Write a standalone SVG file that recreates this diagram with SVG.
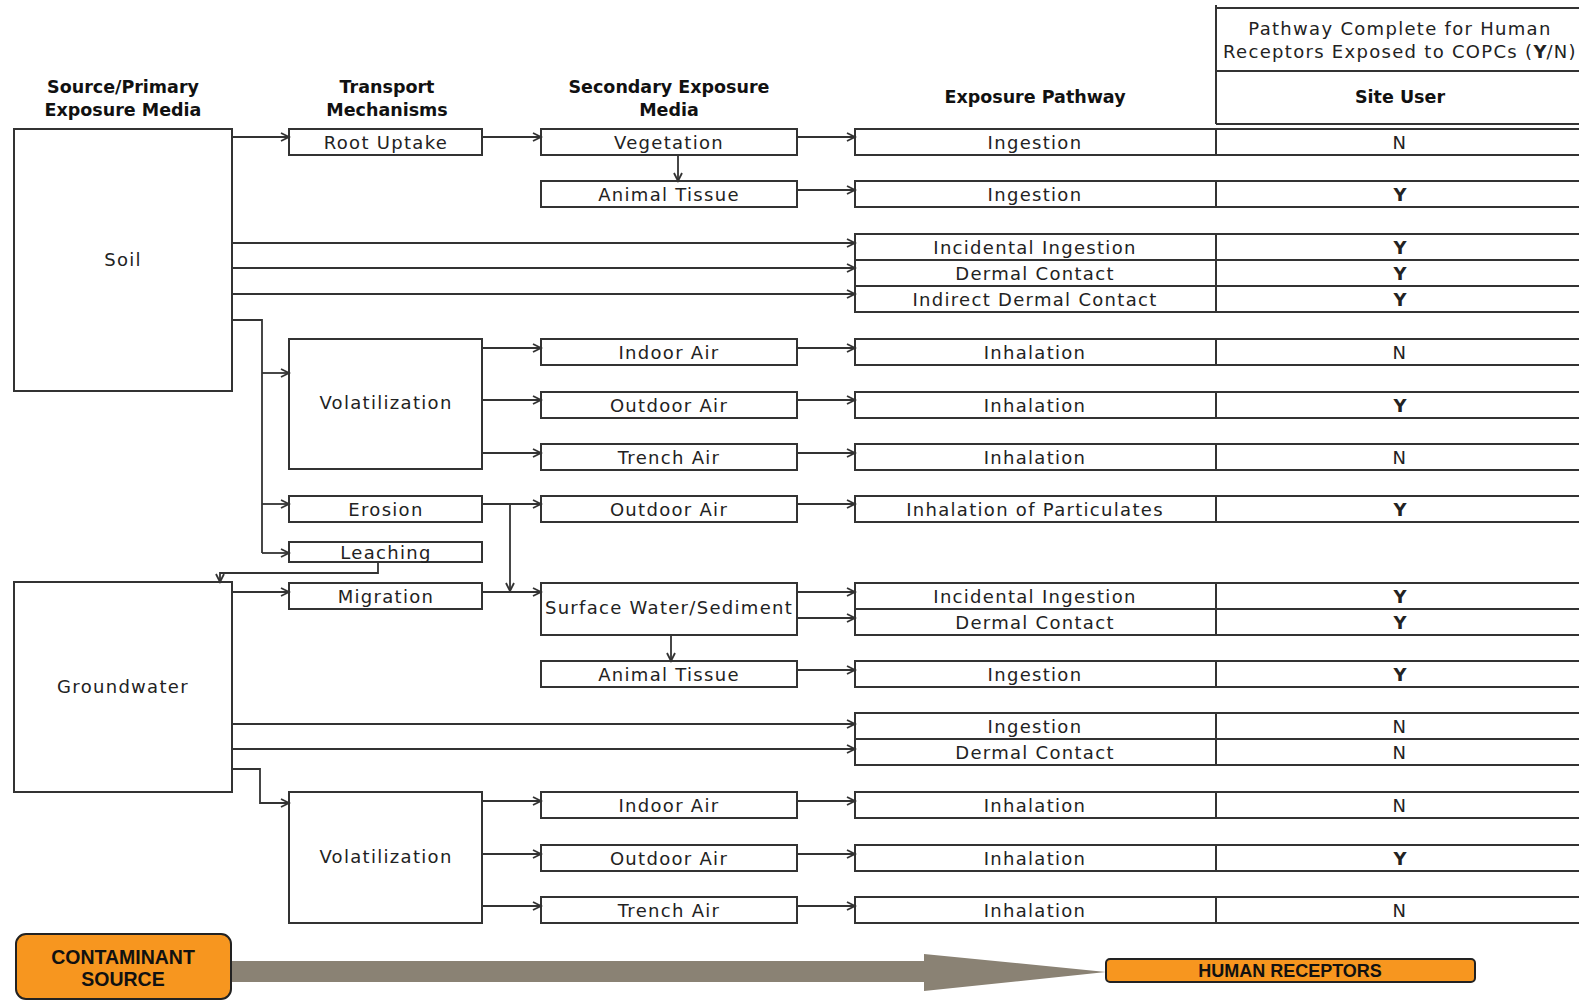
<svg xmlns="http://www.w3.org/2000/svg" width="1579" height="1001" viewBox="0 0 1579 1001">
<defs>
<marker id="ah" markerUnits="userSpaceOnUse" markerWidth="12" markerHeight="12" refX="10" refY="6" orient="auto">
<path d="M2,2 L10,6 L2,10" fill="none" stroke="#333" stroke-width="1.8"/>
</marker>
<style>
.box{fill:#fff;stroke:#333;stroke-width:2}
.t{font-family:"DejaVu Sans",sans-serif;font-size:18px;letter-spacing:1.3px;fill:#222;text-anchor:middle;dominant-baseline:central}
.h{font-family:"DejaVu Sans",sans-serif;font-size:17.5px;font-weight:bold;fill:#111;text-anchor:middle;dominant-baseline:central}
.b{font-weight:bold;letter-spacing:0}
.c{stroke:#333;stroke-width:1.8;fill:none;marker-end:url(#ah)}
.l{stroke:#333;stroke-width:1.8;fill:none}
.o{fill:#F7961F;stroke:#222;stroke-width:2}
.ob{font-family:"Liberation Sans",Arial,sans-serif;font-size:18px;font-weight:bold;fill:#111;text-anchor:middle;dominant-baseline:central}
</style>
</defs>
<rect width="1579" height="1001" fill="#fff"/>

<g id="headers">
<text class="h" x="123" y="87">Source/Primary</text>
<text class="h" x="123" y="110">Exposure Media</text>
<text class="h" x="387" y="87">Transport</text>
<text class="h" x="387" y="110">Mechanisms</text>
<text class="h" x="669" y="87">Secondary Exposure</text>
<text class="h" x="669" y="110">Media</text>
<text class="h" x="1035" y="97">Exposure Pathway</text>
</g>

<g id="receptor-header">
<path class="l" d="M1216,5 V124 M1216,8 H1579 M1216,71 H1579 M1216,124 H1579" style="stroke-width:2"/>
<text class="t" x="1400" y="28">Pathway Complete for Human</text>
<text class="t" x="1400" y="51">Receptors Exposed to COPCs (<tspan class="b">Y</tspan>/N)</text>
<text class="h" x="1400" y="97">Site User</text>
</g>

<g id="soil"><rect class="box" x="14" y="129" width="218" height="262"/><text class="t" x="123" y="259">Soil</text></g>
<g id="groundwater"><rect class="box" x="14" y="582" width="218" height="210"/><text class="t" x="123" y="686">Groundwater</text></g>

<g id="root-uptake"><rect class="box" x="289" y="129" width="193" height="26"/><text class="t" x="386" y="142">Root Uptake</text></g>
<g id="volatilization-1"><rect class="box" x="289" y="339" width="193" height="130"/><text class="t" x="386" y="402">Volatilization</text></g>
<g id="erosion"><rect class="box" x="289" y="496" width="193" height="26"/><text class="t" x="386" y="509">Erosion</text></g>
<g id="leaching"><rect class="box" x="289" y="542" width="193" height="20"/><text class="t" x="386" y="552">Leaching</text></g>
<g id="migration"><rect class="box" x="289" y="583" width="193" height="26"/><text class="t" x="386" y="596">Migration</text></g>
<g id="volatilization-2"><rect class="box" x="289" y="792" width="193" height="131"/><text class="t" x="386" y="856">Volatilization</text></g>

<g id="vegetation"><rect class="box" x="541" y="129" width="256" height="26"/><text class="t" x="669" y="142">Vegetation</text></g>
<g id="animal-tissue-1"><rect class="box" x="541" y="181" width="256" height="26"/><text class="t" x="669" y="194">Animal Tissue</text></g>
<g id="indoor-air-1"><rect class="box" x="541" y="339" width="256" height="26"/><text class="t" x="669" y="352">Indoor Air</text></g>
<g id="outdoor-air-1"><rect class="box" x="541" y="392" width="256" height="26"/><text class="t" x="669" y="405">Outdoor Air</text></g>
<g id="trench-air-1"><rect class="box" x="541" y="444" width="256" height="26"/><text class="t" x="669" y="457">Trench Air</text></g>
<g id="outdoor-air-2"><rect class="box" x="541" y="496" width="256" height="26"/><text class="t" x="669" y="509">Outdoor Air</text></g>
<g id="surface-water"><rect class="box" x="541" y="583" width="256" height="52"/><text class="t" x="669" y="607">Surface Water/Sediment</text></g>
<g id="animal-tissue-2"><rect class="box" x="541" y="661" width="256" height="26"/><text class="t" x="669" y="674">Animal Tissue</text></g>
<g id="indoor-air-2"><rect class="box" x="541" y="792" width="256" height="26"/><text class="t" x="669" y="805">Indoor Air</text></g>
<g id="outdoor-air-3"><rect class="box" x="541" y="845" width="256" height="26"/><text class="t" x="669" y="858">Outdoor Air</text></g>
<g id="trench-air-2"><rect class="box" x="541" y="897" width="256" height="26"/><text class="t" x="669" y="910">Trench Air</text></g>

<g id="pathways">
<g id="p1"><rect class="box" x="855" y="129" width="361" height="26"/><rect class="box" x="1216" y="129" width="370" height="26"/><text class="t" x="1035" y="142">Ingestion</text><text class="t" x="1400" y="142">N</text></g>
<g id="p2"><rect class="box" x="855" y="181" width="361" height="26"/><rect class="box" x="1216" y="181" width="370" height="26"/><text class="t" x="1035" y="194">Ingestion</text><text class="t b" x="1400" y="194">Y</text></g>
<g id="p3"><rect class="box" x="855" y="234" width="361" height="26"/><rect class="box" x="1216" y="234" width="370" height="26"/><text class="t" x="1035" y="247">Incidental Ingestion</text><text class="t b" x="1400" y="247">Y</text></g>
<g id="p4"><rect class="box" x="855" y="260" width="361" height="26"/><rect class="box" x="1216" y="260" width="370" height="26"/><text class="t" x="1035" y="273">Dermal Contact</text><text class="t b" x="1400" y="273">Y</text></g>
<g id="p5"><rect class="box" x="855" y="286" width="361" height="26"/><rect class="box" x="1216" y="286" width="370" height="26"/><text class="t" x="1035" y="299">Indirect Dermal Contact</text><text class="t b" x="1400" y="299">Y</text></g>
<g id="p6"><rect class="box" x="855" y="339" width="361" height="26"/><rect class="box" x="1216" y="339" width="370" height="26"/><text class="t" x="1035" y="352">Inhalation</text><text class="t" x="1400" y="352">N</text></g>
<g id="p7"><rect class="box" x="855" y="392" width="361" height="26"/><rect class="box" x="1216" y="392" width="370" height="26"/><text class="t" x="1035" y="405">Inhalation</text><text class="t b" x="1400" y="405">Y</text></g>
<g id="p8"><rect class="box" x="855" y="444" width="361" height="26"/><rect class="box" x="1216" y="444" width="370" height="26"/><text class="t" x="1035" y="457">Inhalation</text><text class="t" x="1400" y="457">N</text></g>
<g id="p9"><rect class="box" x="855" y="496" width="361" height="26"/><rect class="box" x="1216" y="496" width="370" height="26"/><text class="t" x="1035" y="509">Inhalation of Particulates</text><text class="t b" x="1400" y="509">Y</text></g>
<g id="p10"><rect class="box" x="855" y="583" width="361" height="26"/><rect class="box" x="1216" y="583" width="370" height="26"/><text class="t" x="1035" y="596">Incidental Ingestion</text><text class="t b" x="1400" y="596">Y</text></g>
<g id="p11"><rect class="box" x="855" y="609" width="361" height="26"/><rect class="box" x="1216" y="609" width="370" height="26"/><text class="t" x="1035" y="622">Dermal Contact</text><text class="t b" x="1400" y="622">Y</text></g>
<g id="p12"><rect class="box" x="855" y="661" width="361" height="26"/><rect class="box" x="1216" y="661" width="370" height="26"/><text class="t" x="1035" y="674">Ingestion</text><text class="t b" x="1400" y="674">Y</text></g>
<g id="p13"><rect class="box" x="855" y="713" width="361" height="26"/><rect class="box" x="1216" y="713" width="370" height="26"/><text class="t" x="1035" y="726">Ingestion</text><text class="t" x="1400" y="726">N</text></g>
<g id="p14"><rect class="box" x="855" y="739" width="361" height="26"/><rect class="box" x="1216" y="739" width="370" height="26"/><text class="t" x="1035" y="752">Dermal Contact</text><text class="t" x="1400" y="752">N</text></g>
<g id="p15"><rect class="box" x="855" y="792" width="361" height="26"/><rect class="box" x="1216" y="792" width="370" height="26"/><text class="t" x="1035" y="805">Inhalation</text><text class="t" x="1400" y="805">N</text></g>
<g id="p16"><rect class="box" x="855" y="845" width="361" height="26"/><rect class="box" x="1216" y="845" width="370" height="26"/><text class="t" x="1035" y="858">Inhalation</text><text class="t b" x="1400" y="858">Y</text></g>
<g id="p17"><rect class="box" x="855" y="897" width="361" height="26"/><rect class="box" x="1216" y="897" width="370" height="26"/><text class="t" x="1035" y="910">Inhalation</text><text class="t" x="1400" y="910">N</text></g>
</g>

<g id="connectors">
<path class="c" d="M232,137 H289"/>
<path class="c" d="M482,137 H541"/>
<path class="c" d="M797,137 H855"/>
<path class="c" d="M678,155 V181"/>
<path class="c" d="M797,190 H855"/>
<path class="c" d="M232,243 H855"/>
<path class="c" d="M232,268 H855"/>
<path class="c" d="M232,294 H855"/>
<path class="l" d="M232,320 H262 V553"/>
<path class="c" d="M262,373 H289"/>
<path class="c" d="M262,504 H289"/>
<path class="c" d="M262,553 H289"/>
<path class="c" d="M482,348 H541"/>
<path class="c" d="M482,400 H541"/>
<path class="c" d="M482,453 H541"/>
<path class="c" d="M797,348 H855"/>
<path class="c" d="M797,400 H855"/>
<path class="c" d="M797,453 H855"/>
<path class="c" d="M482,504 H541"/>
<path class="c" d="M797,504 H855"/>
<path class="c" d="M510,504 V591"/>
<path class="c" d="M378,562 V573 H220 V582"/>
<path class="c" d="M232,592 H289"/>
<path class="c" d="M482,592 H541"/>
<path class="c" d="M797,592 H855"/>
<path class="c" d="M797,618 H855"/>
<path class="c" d="M671,635 V661"/>
<path class="c" d="M797,670 H855"/>
<path class="c" d="M232,724 H855"/>
<path class="c" d="M232,749 H855"/>
<path class="c" d="M232,769 H260 V803 H289"/>
<path class="c" d="M482,801 H541"/>
<path class="c" d="M482,854 H541"/>
<path class="c" d="M482,906 H541"/>
<path class="c" d="M797,801 H855"/>
<path class="c" d="M797,854 H855"/>
<path class="c" d="M797,906 H855"/>
</g>

<g id="flow-arrow">
<polygon points="231,961 924,961 924,954 1106,972 924,991 924,982 231,982" fill="#8A8274"/>
</g>
<g id="contaminant-source">
<rect class="o" x="16" y="934" width="215" height="65" rx="10"/>
<text class="ob" x="123" y="957" style="font-size:19.5px">CONTAMINANT</text>
<text class="ob" x="123" y="979" style="font-size:19.5px">SOURCE</text>
</g>
<g id="human-receptors">
<rect class="o" x="1106" y="959" width="369" height="23" rx="4"/>
<text class="ob" x="1290" y="971">HUMAN RECEPTORS</text>
</g>
</svg>
